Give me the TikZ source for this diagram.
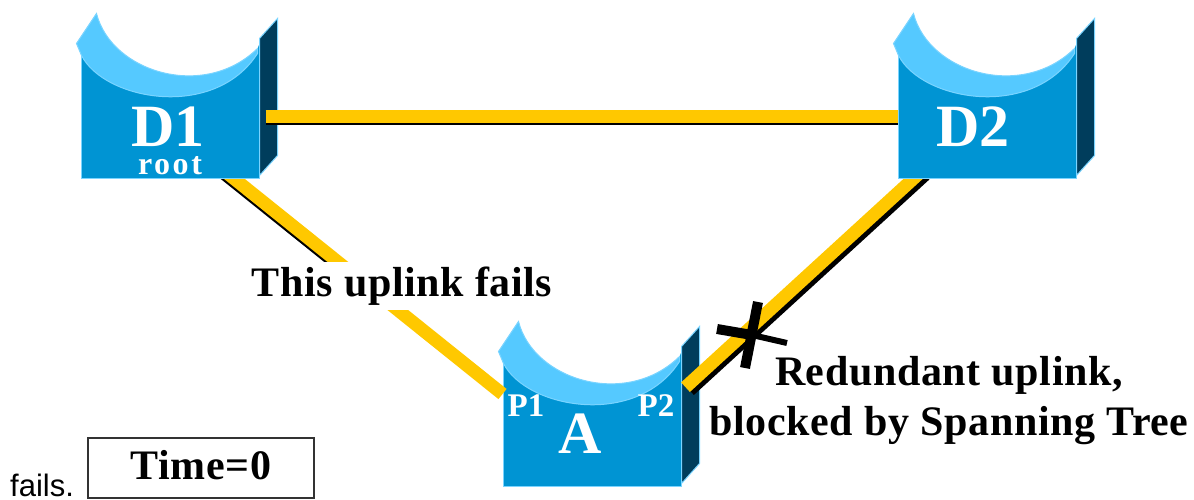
\documentclass[tikz,border=0pt]{standalone}
\usepackage{fontspec}
\setmainfont{Liberation Serif}
\newfontfamily\spacedfont{Liberation Serif}[LetterSpace=1.5,BoldFont={Liberation Serif Bold}]
\newfontfamily\rootfont{Liberation Serif}[LetterSpace=8,BoldFont={Liberation Serif Bold}]
\newfontfamily\armfont{Liberation Sans}
\usepackage{xcolor}
\usepackage{tikz}
\usetikzlibrary{positioning,calc}
\definecolor{swfront}{HTML}{0094D3}
\definecolor{swband}{HTML}{55C9FF}
\definecolor{swside}{HTML}{003D5C}
\definecolor{swedge}{HTML}{7AD4FF}
\definecolor{linkyellow}{HTML}{FFC800}
\tikzset{switchbox/.style={fill=swfront,draw=swedge,line width=1pt,inner sep=0pt,minimum width=178pt,minimum height=136pt}}
\tikzset{uplink/.style={line width=13pt,linkyellow}}
\tikzset{uplinkshade/.style={line width=13pt,black}}
\tikzset{bigname/.style={inner sep=0pt,white,font=\bfseries\fontsize{60}{60}\selectfont}}
\tikzset{portname/.style={inner sep=0pt,white,font=\bfseries\fontsize{33}{33}\selectfont}}
\tikzset{notetext/.style={inner sep=0pt,align=center,font=\spacedfont\bfseries\fontsize{42}{50}\selectfont}}
\newcommand{\switchparts}[1]{
  \begin{scope}[shift={(#1.south west)}]
    \fill[white] (16,-165) .. controls (31,-106) and (124,-78) .. (177,-130) -- (180,-138) -- (-1,-138) -- cycle;
    \draw[fill=swside,draw=swedge,line width=1pt] (179,-140) -- (197,-160) -- (197,-23) -- (179,-3) -- cycle;
    \draw[fill=swband,draw=swedge,line width=1pt] (-4,-135) -- (16,-165) .. controls (31,-106) and (124,-78) .. (177,-130) -- (177,-125) .. controls (134,-58) and (24,-78) .. (1,-123) -- cycle;
  \end{scope}
}
\begin{document}
\begin{tikzpicture}[x=1pt,y=-1pt]
  \useasboundingbox (0,0) rectangle (1194,500);
  \node[switchbox] (d1) at (170,110) {};
  \node[switchbox,right=638pt of d1] (d2) {};
  \node[switchbox,below right=171pt and 243pt of d1] (a) {};
  \switchparts{d1}
  \switchparts{d2}
  \switchparts{a}

  % links
  \draw[uplinkshade] ([xshift=6pt,yshift=-2.5pt]d1.-4.2) -- ([yshift=-2.5pt]d2.184.2);
  \draw[uplink] ([xshift=6pt]d1.-4.2) -- (d2.184.2);
  \begin{scope}
    \clip (0,179) rectangle (1194,500);
    \draw[uplinkshade,shorten <=-10pt,shorten >=200pt] ([xshift=-1.5pt,yshift=-1.5pt]d1.-47.2) -- ([xshift=-1.5pt,yshift=-1.5pt]a.165.1);
    \draw[uplink,shorten <=-10pt] (d1.-47.2) -- (a.165.1);
    \draw[uplinkshade,shorten <=-10pt] ([xshift=4pt,yshift=-3pt]d2.223.8) -- ([xshift=8pt,yshift=-3pt]a.19.6);
    \draw[uplink,shorten <=-10pt] (d2.223.8) -- ([xshift=4pt]a.19.6);
  \end{scope}

  % blocked mark
  \coordinate (blockx) at (752,335);
  \draw[line width=10pt] ($(blockx)+(6,-33)$) -- ($(blockx)+(-7,33)$);
  \draw[line width=10pt] ($(blockx)+(-35,-6)$) -- ($(blockx)+(0,0)$);
  \draw[line width=6pt] (blockx) -- ($(blockx)+(35,8)$);

  % labels
  \node[bigname] (d1t) at (168,127) {D1};
  \node[font=\rootfont\bfseries\fontsize{32}{32}\selectfont,white,inner sep=0pt] (roott) at (170,166) {root};
  \node[bigname] (d2t) at (973,127) {D2};
  \node[bigname] (at) at (580,434) {A};
  \node[portname] (p1) at (526,406) {P1};
  \node[portname] (p2) at (656,406) {P2};
  \node[notetext,fill=white,minimum width=300pt,minimum height=48pt] (failtxt) at (402,286) {This uplink fails};
  \node[notetext] (redtxt) at (949,401) {Redundant uplink,\\ blocked by Spanning Tree};
  \node[notetext,draw=black!80,line width=2pt,minimum width=226pt,minimum height=60pt,text depth=6pt] (timetxt) at (201,468) {Time=0};
  \node[font=\armfont\fontsize{31}{31}\selectfont,inner sep=0pt,anchor=base west] (failsend) at (10,496) {fails.};
\end{tikzpicture}
\end{document}
